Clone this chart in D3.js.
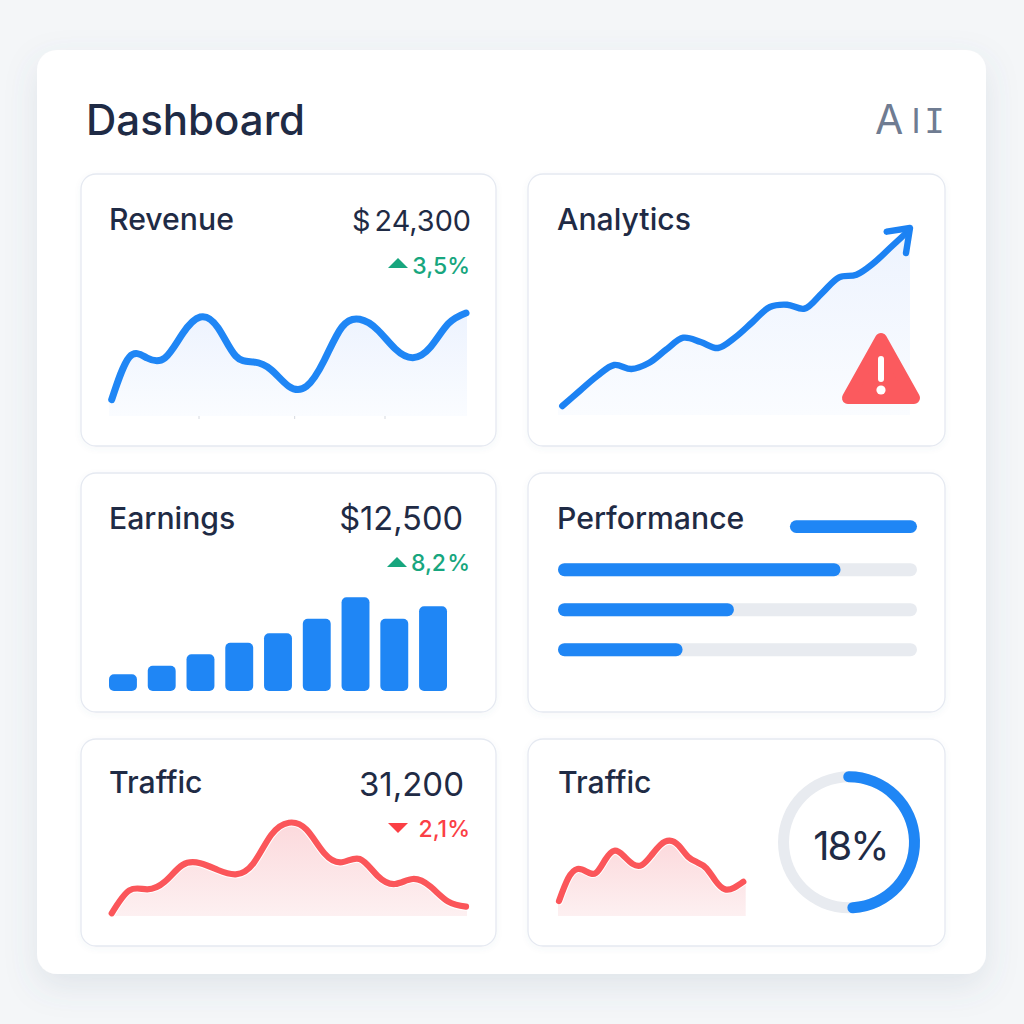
<!DOCTYPE html>
<html lang="en">

<head>
    <meta charset="UTF-8">
    <title>Dashboard</title>
    <style>
        html, body {
            margin: 0;
            padding: 0;
            background-color: #f4f6f8;
        }

        svg {
            display: block;
        }

        text {
            font-family: Inter, 'Noto Sans', sans-serif;
            fill: #1f2b45;
        }
    </style>
    <script src="https://d3js.org/d3.v7.min.js"></script>
</head>

<body>
    <svg id="dash" width="1024" height="1024"></svg>

    <script>
        // Revenue line at even steps
        const revenueValues = [16.3, 59, 58, 58, 82.3, 99, 88.3, 60, 54, 46.3, 29.7, 29.7, 55.7, 89, 96.7, 86.3, 67.3, 58.3, 69, 92.3, 103];
        const revenueTicks = [4.9, 10.3, 15.4];

        // Analytics line
        const analyticsValues = [9, 24, 38.7, 50, 46, 52, 65.3, 77.3, 73, 67, 77.7, 93, 108, 110.3, 106.3, 121.7, 137.7, 140.3, 152, 168, 184];
        const arrowX = [328.7, 352, 348];
        const arrowY = [183.3, 187, 162];

        // Earnings bars
        const earningsCategories = ["1", "2", "3", "4", "5", "6", "7", "8", "9"];
        const earningsValues = [16.7, 25.3, 36.7, 48.3, 57.7, 72.3, 93.7, 72.3, 84.7];

        // Performance bars, percent of track
        const performanceValues = [78.7, 49, 34.7];
        const performanceHeader = 35.4;

        // Traffic line (left card)
        const trafficValues = [2.7, 25.7, 26.7, 34.3, 51, 52.7, 46, 41.7, 52.7, 81, 93.3, 86.3, 62.7, 53.7, 57, 40.3, 32, 37, 29.3, 14.3, 9.3];

        // Traffic line (right card)
        const traffic2Values = [15, 37.7, 47, 44.3, 43, 56, 65.3, 60.3, 52, 51, 60.3, 71, 75.3, 70.3, 59.3, 53.7, 47.7, 35, 26.7, 28.3, 34.3];

        const gaugeLabel = "18%";
        const gaugeStart = -0.014;
        const gaugeEnd = 0.504;

        const blue = "#1f86f5";
        const red = "#fb565a";
        const green = "#17a67e";
        const ink = "#1f2b45";

        const svg = d3.select("#dash");
        const defs = svg.append("defs");

        function gradient(id, top, bottom) {
            const g = defs.append("linearGradient").attr("id", id)
                .attr("x1", 0).attr("y1", 0).attr("x2", 0).attr("y2", 1);
            g.append("stop").attr("offset", "0%").attr("stop-color", top);
            g.append("stop").attr("offset", "100%").attr("stop-color", bottom);
        }
        gradient("blueFill", "#edf3fe", "#fafcff");
        gradient("redFill", "#fcd9dc", "#fdf0f1");

        const shadow = defs.append("filter").attr("id", "panelShadow")
            .attr("x", "-10%").attr("y", "-10%").attr("width", "120%").attr("height", "120%");
        shadow.append("feDropShadow").attr("dx", 0).attr("dy", 12).attr("stdDeviation", 16)
            .attr("flood-color", "#5a6a85").attr("flood-opacity", 0.13);

        const cardShadow = defs.append("filter").attr("id", "cardShadow")
            .attr("x", "-5%").attr("y", "-5%").attr("width", "110%").attr("height", "110%");
        cardShadow.append("feDropShadow").attr("dx", 0).attr("dy", 2).attr("stdDeviation", 3)
            .attr("flood-color", "#5a6a85").attr("flood-opacity", 0.05);

        // Panel and cards
        svg.append("rect").attr("x", 37).attr("y", 50).attr("width", 949).attr("height", 924)
            .attr("rx", 20).attr("fill", "#fff").attr("filter", "url(#panelShadow)");

        const cardBoxes = [
            [81, 174, 415, 272], [528, 174, 417, 272],
            [81, 473, 415, 239], [528, 473, 417, 239],
            [81, 739, 415, 207], [528, 739, 417, 207]
        ];
        svg.selectAll("rect.card").data(cardBoxes).enter().append("rect")
            .attr("class", "card")
            .attr("x", d => d[0]).attr("y", d => d[1]).attr("width", d => d[2]).attr("height", d => d[3])
            .attr("rx", 15).attr("fill", "#fff").attr("stroke", "#e5e9f1").attr("stroke-width", 1.3)
            .attr("filter", "url(#cardShadow)");

        function label(x, y, str, size, opts) {
            opts = opts || {};
            return svg.append("text").attr("x", x).attr("y", y).text(str)
                .attr("font-size", size)
                .attr("font-weight", opts.weight || 400)
                .attr("text-anchor", opts.anchor || "start")
                .style("fill", opts.fill || ink)
                .style("letter-spacing", opts.spacing || null)
                .style("word-spacing", opts.words || null)
                .style("font-family", opts.family || null);
        }

        // Header
        label(86, 135, "Dashboard", 42, { weight: 500 });
        label(875, 134, "A", 41, { fill: "#6f7c92" });
        label(916, 133, "I", 34, { fill: "#6f7c92", anchor: "middle" });
        label(934.5, 133, "I", 34, { fill: "#6f7c92", anchor: "middle", family: "'DejaVu Sans Mono', monospace" });

        // Card titles and figures
        label(109, 230, "Revenue", 30.2, { weight: 500 });
        label(471, 231, "$ 24,300", 28.8, { anchor: "end", words: "-4px" });
        label(557, 230, "Analytics", 30.2, { weight: 500 });
        label(109, 529, "Earnings", 30.2, { weight: 500 });
        label(463, 530, "$12,500", 32.6, { anchor: "end" });
        label(557, 529, "Performance", 30.2, { weight: 500 });
        label(109, 793, "Traffic", 30.2, { weight: 500 });
        label(464, 796, "31,200", 33, { anchor: "end" });
        label(558, 793, "Traffic", 30.2, { weight: 500 });

        function delta(x, y, base, str, color, up) {
            const h = 10, w = 20;
            const tri = up ? [[0, 0], [w / 2, -h], [w, 0]] : [[0, -h], [w, -h], [w / 2, 0]];
            svg.append("path").attr("d", d3.line()(tri) + "Z")
                .attr("transform", `translate(${x},${y})`)
                .attr("fill", color);
            label(470, base, str, 23, { anchor: "end", fill: color, weight: 500, words: "-5px" });
        }
        delta(388, 268, 274, "3,5%", green, true);
        delta(387, 567, 571, "8,2 %", green, true);
        delta(388, 833, 837, "2,1%", "#fb3f45", false);

        // Line + area chart on an even step x scale
        function spark(o) {
            const x = d3.scalePoint().domain(d3.range(o.values.length)).range([o.x0, o.x1]);
            const areaX = d3.scalePoint().domain(d3.range(o.values.length)).range([o.areaX0, o.areaX1]);
            const y = d3.scaleLinear().domain([0, 100]).range([o.base, o.base - 100]);
            const curve = o.curve || d3.curveNatural;
            const g = svg.append("g");

            const area = d3.area().x((d, i) => areaX(i)).y0(o.base).y1(d => y(d)).curve(curve);
            g.append("path").datum(o.values).attr("d", area).attr("fill", `url(#${o.fill})`);

            const line = d3.line().x((d, i) => x(i)).y(d => y(d)).curve(curve);
            if (o.halo) {
                g.append("path").datum(o.values).attr("d", line).attr("fill", "none")
                    .attr("stroke", "#fff").attr("stroke-width", o.stroke + 2).attr("stroke-linecap", "round");
            }
            g.append("path").datum(o.values).attr("d", line).attr("fill", "none")
                .attr("stroke", o.color).attr("stroke-width", o.stroke)
                .attr("stroke-linecap", "round").attr("stroke-linejoin", "round");
            return { x, y, g };
        }

        const rev = spark({ values: revenueValues, x0: 111.7, x1: 466, areaX0: 109, areaX1: 467, base: 416, fill: "blueFill", color: blue, stroke: 7 });
        const tickScale = d3.scaleLinear().domain([0, revenueValues.length - 1]).range([111.7, 466]);
        const revAxis = rev.g.append("g").attr("transform", "translate(0,416)")
            .call(d3.axisBottom(tickScale).tickValues(revenueTicks).tickSize(3).tickFormat(""));
        revAxis.select(".domain").remove();
        revAxis.selectAll("line").attr("stroke", "#d5d9e0");

        const ana = spark({ values: analyticsValues, x0: 562.3, x1: 908.3, areaX0: 558, areaX1: 910, base: 415, fill: "blueFill", color: "#1c82f3", stroke: 6.4, curve: d3.curveCatmullRom });
        const arrowScale = d3.scaleLinear().domain([0, 352]).range([558, 910]);
        ana.g.append("path").datum(arrowX.map((v, i) => [v, arrowY[i]]))
            .attr("d", d3.line().x(d => arrowScale(d[0])).y(d => ana.y(d[1])))
            .attr("fill", "none").attr("stroke", "#1c82f3").attr("stroke-width", 6.4)
            .attr("stroke-linecap", "round").attr("stroke-linejoin", "round");

        // Warning sign
        const warn = svg.append("g").attr("transform", "translate(881,0)");
        warn.append("path").attr("d", "M0,339 L-33,398 L33,398 Z")
            .attr("fill", "#fb5a5e").attr("stroke", "#fb5a5e").attr("stroke-width", 12).attr("stroke-linejoin", "round");
        warn.append("rect").attr("x", -3).attr("y", 356).attr("width", 6).attr("height", 26).attr("rx", 3).attr("fill", "#fff");
        warn.append("circle").attr("cy", 390).attr("r", 4.6).attr("fill", "#fff");

        // Earnings bars
        const barX = d3.scaleBand().domain(earningsCategories).range([109, 447]).paddingInner(0.28);
        const barY = d3.scaleLinear().domain([0, 100]).range([691, 591]);
        svg.selectAll("rect.bar").data(earningsValues).enter().append("rect")
            .attr("class", "bar")
            .attr("x", (d, i) => barX(earningsCategories[i]))
            .attr("y", d => barY(d))
            .attr("width", barX.bandwidth())
            .attr("height", d => barY(0) - barY(d))
            .attr("rx", 5)
            .attr("fill", blue);

        // Performance bars
        const perfX = d3.scaleLinear().domain([0, 100]).range([0, 359]);
        const perfY = d3.scaleBand().domain(d3.range(performanceValues.length)).range([550, 670]).padding(0);
        const perf = svg.selectAll("g.perf").data(performanceValues).enter().append("g")
            .attr("class", "perf")
            .attr("transform", (d, i) => `translate(558,${perfY(i) + perfY.bandwidth() / 2 - 0.3 - 6.5})`);
        perf.append("rect").attr("width", perfX(100)).attr("height", 13).attr("rx", 6.5).attr("fill", "#e8ebf0");
        perf.append("rect").attr("width", d => perfX(d)).attr("height", 13).attr("rx", 6.5).attr("fill", blue);
        svg.append("rect").attr("x", 917 - perfX(performanceHeader)).attr("y", 520.3)
            .attr("width", perfX(performanceHeader)).attr("height", 12.6).attr("rx", 6.3).attr("fill", blue);

        // Red sparklines
        spark({ values: trafficValues, x0: 111.7, x1: 466, areaX0: 111, areaX1: 467, base: 916, fill: "redFill", color: red, stroke: 6.2, halo: true });
        spark({ values: traffic2Values, x0: 559, x1: 743.3, areaX0: 558, areaX1: 745.7, base: 916, fill: "redFill", color: red, stroke: 6.2, halo: true });

        // Gauge
        const angle = d3.scaleLinear().domain([0, 1]).range([0, 2 * Math.PI]);
        const gauge = svg.append("g").attr("transform", "translate(849,842.3)");
        gauge.append("path")
            .attr("d", d3.arc().innerRadius(60).outerRadius(71).startAngle(0).endAngle(2 * Math.PI)())
            .attr("fill", "#e8ebf0");
        gauge.append("path")
            .attr("d", d3.arc().innerRadius(60).outerRadius(71).cornerRadius(5.5)
                .startAngle(angle(gaugeStart)).endAngle(angle(gaugeEnd))())
            .attr("fill", blue);
        label(850.5, 860, gaugeLabel, 40, { anchor: "middle", spacing: "-2px" });
    </script>
</body>

</html>
